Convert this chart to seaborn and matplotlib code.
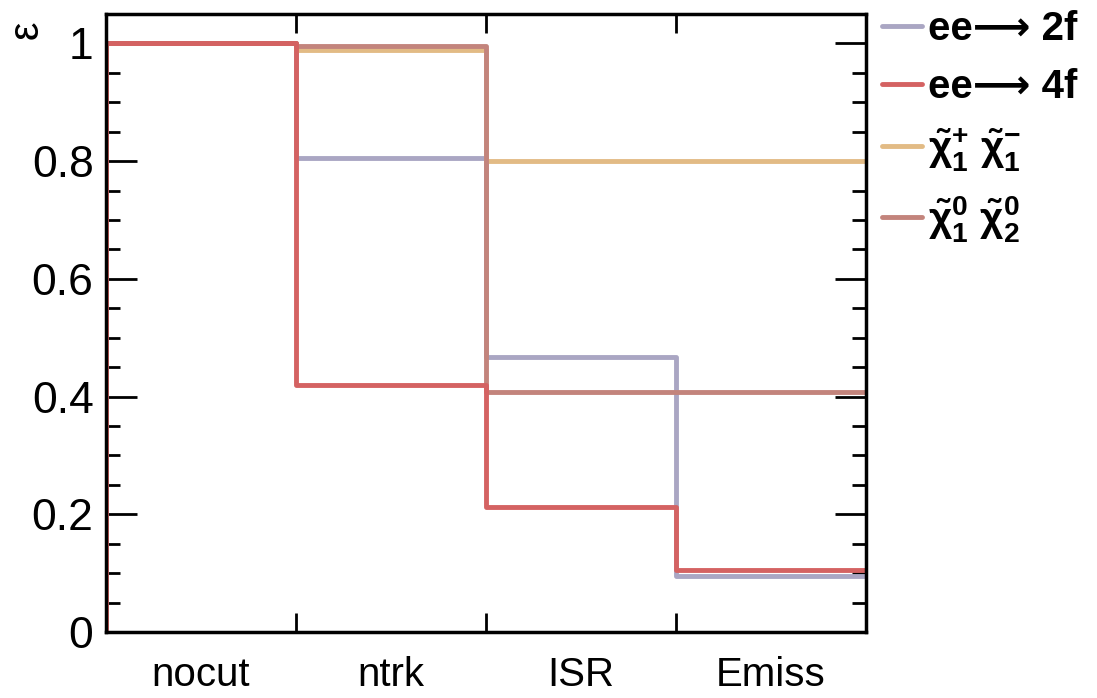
import numpy as np
import pandas as pd
import matplotlib
matplotlib.use("Agg")
import matplotlib.pyplot as plt
from matplotlib.ticker import FixedLocator, MultipleLocator, FuncFormatter
import seaborn as sns

# ---- data ----
cuts = ["nocut", "ntrk", "ISR", "Emiss"]
eff_2f = [1.0, 0.806, 0.467, 0.095]
eff_4f = [1.0, 0.419, 0.212, 0.105]
eff_c1c1 = [1.0, 0.988, 0.800, 0.800]
eff_n1n2 = [1.0, 0.995, 0.407, 0.407]
labels = ["ee\u27f6 2f", "ee\u27f6 4f",
          r"$\mathbf{\tilde{\chi}^{+}_{1}\ \tilde{\chi}^{-}_{1}}$",
          r"$\mathbf{\tilde{\chi}^{0}_{1}\ \tilde{\chi}^{0}_{2}}$"]
colors = ["#aaa6c3", "#e2bb85", "#c3847c", "#d46262"]

sns.set_style("white")
plt.rcParams["font.family"] = ["Liberation Sans", "DejaVu Sans"]
plt.rcParams["mathtext.fontset"] = "custom"
plt.rcParams["mathtext.rm"] = "Liberation Sans"
plt.rcParams["mathtext.it"] = "Liberation Sans:italic"
plt.rcParams["mathtext.bf"] = "Liberation Sans:bold"
plt.rcParams["text.color"] = "black"
plt.rcParams["xtick.color"] = "black"
plt.rcParams["ytick.color"] = "black"
plt.rcParams["axes.labelcolor"] = "black"

fig = plt.figure(figsize=(10.97, 6.98), dpi=100)
ax = fig.add_axes([106/1097, 66/698, (866-106)/1097, (632-14)/698])

edges = np.arange(len(cuts) + 1)

def step_frame(vals):
    x = np.concatenate([[edges[0]], edges])
    y = np.concatenate([[0.0], vals, [vals[-1]]])
    return pd.DataFrame({"x": x, "y": y})

series = [(eff_2f, labels[0], colors[0]),
          (eff_c1c1, labels[2], colors[1]),
          (eff_n1n2, labels[3], colors[2]),
          (eff_4f, labels[1], colors[3])]
for vals, lab, col in series:
    df = step_frame(vals)
    sns.lineplot(data=df, x="x", y="y", estimator=None, sort=False,
                 drawstyle="steps-post", color=col, lw=3.5, ax=ax, label=lab)

ax.set_xlim(0, len(cuts))
ax.set_ylim(0, 1.05)

# x ticks: majors at bin edges, labels at centres
ax.xaxis.set_major_locator(FixedLocator(edges[1:-1]))
ax.xaxis.set_major_formatter(FuncFormatter(lambda v, p: ""))
ax.xaxis.set_minor_locator(FixedLocator(edges[:-1] + 0.5))
ax.xaxis.set_minor_formatter(FuncFormatter(lambda v, p: cuts[int(v)] if 0 <= int(v) < len(cuts) else ""))
ax.tick_params(axis="x", which="major", direction="in", length=14, width=2,
               top=True, bottom=True)
ax.tick_params(axis="x", which="minor", length=0, labelsize=29, pad=17)

ax.yaxis.set_major_locator(MultipleLocator(0.2))
ax.yaxis.set_minor_locator(MultipleLocator(0.05))
ax.yaxis.set_major_formatter(FuncFormatter(lambda v, p: "%g" % round(v, 2)))
ax.tick_params(axis="y", which="major", direction="in", length=22, width=2,
               left=True, right=True, labelsize=32, pad=9)
ax.tick_params(axis="y", which="minor", direction="in", length=10, width=2,
               left=True, right=True)

for s in ax.spines.values():
    s.set_linewidth(2.5)
    s.set_color("black")

ax.set_xlabel("")
ax.set_ylabel("ε", fontsize=30, loc="top", rotation=90)
ax.yaxis.set_label_coords(-0.078, 0.99)

ax.get_legend().remove()
h, l = ax.get_legend_handles_labels()
order = [labels[0], labels[1], labels[2], labels[3]]
hm = dict(zip(l, h))
fig.legend([hm[k] for k in order], order, loc="upper left",
           bbox_to_anchor=(874/1097, 1 - 2/698), frameon=False,
           prop={"weight": "bold", "size": 29}, handlelength=1.0,
           handletextpad=0.15, labelspacing=0.5, borderaxespad=0,
           borderpad=0.2)

fig.savefig("out.png", dpi=100)
